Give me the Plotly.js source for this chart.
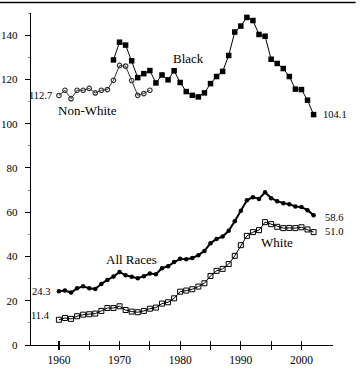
<!DOCTYPE html>
<html>
<head>
<meta charset="utf-8">
<script src="https://cdn.plot.ly/plotly-3.0.1.min.js"></script>
<style>html,body{margin:0;padding:0;background:#fff;}#chart{width:363px;height:377px;}</style>
</head>
<body>
<div id="chart"></div>
<script>
const yearsNonWhite = [1960,1961,1962,1963,1964,1965,1966,1967,1968,1969,1970,1971,1972,1973,1974,1975];
const nonWhite = [112.7,115.1,111.3,115.1,115.1,115.9,113.9,115.1,115.4,119.6,126.3,126.0,119.5,112.8,113.6,115.1];

const yearsBlack = [1969,1970,1971,1972,1973,1974,1975,1976,1977,1978,1979,1980,1981,1982,1983,1984,1985,1986,1987,1988,1989,1990,1991,1992,1993,1994,1995,1996,1997,1998,1999,2000,2001,2002];
const black = [128.8,136.8,135.5,128.4,120.8,122.6,124.0,118.4,122.0,119.8,123.9,118.6,114.5,112.8,112.1,113.9,118.1,121.3,123.6,130.8,141.4,144.1,148.0,146.6,140.3,139.5,129.1,127.2,124.9,121.3,115.6,115.4,110.6,104.1];

const years = [1960,1961,1962,1963,1964,1965,1966,1967,1968,1969,1970,1971,1972,1973,1974,1975,1976,1977,1978,1979,1980,1981,1982,1983,1984,1985,1986,1987,1988,1989,1990,1991,1992,1993,1994,1995,1996,1997,1998,1999,2000,2001,2002];
const allRaces = [24.3,24.6,23.7,25.6,26.5,25.6,25.3,27.6,29.4,30.9,33.0,31.5,30.8,30.2,31.1,32.3,32.0,34.7,35.6,37.5,39.0,38.7,39.3,40.6,42.5,46.0,47.9,49.0,51.6,55.9,60.6,65.4,66.8,66.0,69.0,66.3,65.0,64.1,63.6,62.6,62.3,60.9,58.6];
const white = [11.4,12.2,11.8,13.0,13.7,13.9,14.2,15.4,16.7,16.7,17.5,15.8,15.1,14.8,15.4,16.4,16.9,18.7,19.3,21.1,24.1,24.6,25.2,26.4,27.9,31.2,33.5,34.4,36.6,40.3,45.1,49.3,51.0,51.9,55.5,54.6,53.4,52.8,52.9,52.8,53.2,52.2,51.0];

const xTickVals = [1960,1970,1980,1990,2000];
const xTickText = ['1960','1970','1980','1990','2000'];
const xMinorVals = [1965,1975,1985,1995];
const xAllTickVals = [1960,1965,1970,1975,1980,1985,1990,1995,2000];

const FONT = 'Liberation Serif, Times New Roman, serif';

const traces = [
  {x: yearsNonWhite, y: nonWhite, type:'scatter', mode:'lines+markers',
   line:{color:'#333', width:1},
   marker:{symbol:'circle-open', size:4.5, color:'#333', line:{width:1.2, color:'#333'}},
   hoverinfo:'none'},
  {x: yearsBlack, y: black, type:'scatter', mode:'lines+markers',
   line:{color:'#000', width:1},
   marker:{symbol:'square', size:5.5, color:'#000'},
   hoverinfo:'none'},
  {x: years, y: allRaces, type:'scatter', mode:'lines+markers',
   line:{color:'#000', width:2},
   marker:{symbol:'circle', size:4.5, color:'#000'},
   hoverinfo:'none'},
  {x: years, y: white, type:'scatter', mode:'lines+markers',
   line:{color:'#000', width:1},
   marker:{symbol:'square-open', size:5, color:'#000', line:{width:1, color:'#000'}},
   hoverinfo:'none'},
  {x: [1960], y: [0], xaxis:'x2', yaxis:'y', type:'scatter', mode:'markers',
   marker:{opacity:0}, hoverinfo:'none', showlegend:false}
];

const annFont = {family: FONT, size: 13, color:'#000'};
const numFont = {family: FONT, size: 10.5, color:'#000'};

const layout = {
  width:363, height:377,
  margin:{l:31, r:30, t:13, b:32, pad:0},
  paper_bgcolor:'#fff', plot_bgcolor:'#fff',
  showlegend:false,
  xaxis:{
    range:[1955.4, 2005.2], showgrid:false, zeroline:false,
    showline:true, linecolor:'#000', linewidth:1.3,
    tickmode:'array', tickvals: xTickVals, ticktext: xTickText,
    ticks:'outside', ticklen:4, tickwidth:1.2, tickcolor:'#000',
    minor:{tickmode:'array', tickvals: xMinorVals, ticks:'outside', ticklen:4, tickwidth:1.2, tickcolor:'#000', showgrid:false},
    tickfont:{family: FONT, size: 11.5, color:'#000'},
    fixedrange:true
  },
  xaxis2:{
    overlaying:'x', matches:'x', range:[1955.4, 2005.2], showgrid:false, zeroline:false,
    showline:false, tickmode:'array', tickvals: xAllTickVals,
    ticks:'inside', ticklen:4, tickwidth:1.2, tickcolor:'#000',
    showticklabels:false, fixedrange:true
  },
  yaxis:{
    range:[0, 150], showgrid:false, zeroline:false,
    showline:true, linecolor:'#000', linewidth:1.3,
    tickmode:'linear', tick0:0, dtick:20,
    ticks:'outside', ticklen:5, tickwidth:1, tickcolor:'#000',
    minor:{tickmode:'linear', tick0:10, dtick:20, ticks:'outside', ticklen:2, tickwidth:1, tickcolor:'#888', showgrid:false},
    tickfont:{family: FONT, size: 11, color:'#000'},
    ticklabelstandoff:5,
    fixedrange:true
  },
  shapes:[
    {type:'line', xref:'paper', yref:'paper', x0:-0.105, x1:1.075, y0:1.032, y1:1.032,
     line:{color:'#000', width:1.5}}
  ],
  annotations:[
    {x:1981.3, y:129.4, text:'Black', showarrow:false, font:annFont, xanchor:'center', yanchor:'middle'},
    {x:1964.7, y:105.9, text:'Non-White', showarrow:false, font:annFont, xanchor:'center', yanchor:'middle'},
    {x:1959.2, y:nonWhite[0], text:'112.7', showarrow:false, font:numFont, xanchor:'right', yanchor:'middle'},
    {x:2003.3, y:black[black.length-1], text:'104.1', showarrow:false, font:numFont, xanchor:'left', yanchor:'middle'},
    {x:1972.0, y:38.5, text:'All Races', showarrow:false, font:annFont, xanchor:'center', yanchor:'middle'},
    {x:1995.9, y:46.2, text:'White', showarrow:false, font:annFont, xanchor:'center', yanchor:'middle'},
    {x:2003.6, y:57.5, text:'58.6', showarrow:false, font:numFont, xanchor:'left', yanchor:'middle'},
    {x:2003.6, y:51.1, text:'51.0', showarrow:false, font:numFont, xanchor:'left', yanchor:'middle'},
    {x:1958.9, y:24.0, text:'24.3', showarrow:false, font:numFont, xanchor:'right', yanchor:'middle'},
    {x:1958.9, y:13.4, text:'11.4', showarrow:false, font:numFont, xanchor:'right', yanchor:'middle'}
  ]
};

Plotly.newPlot('chart', traces, layout, {displayModeBar:false, staticPlot:true});
</script>
</body>
</html>
